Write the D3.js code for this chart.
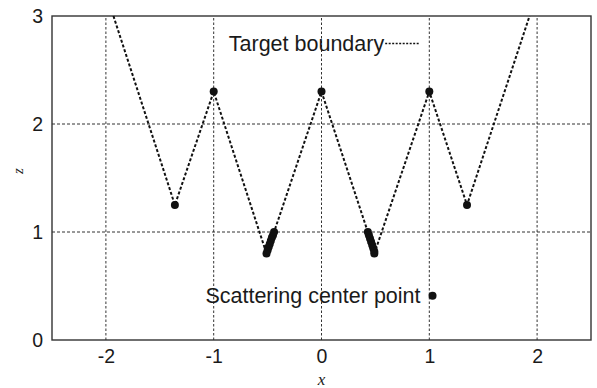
<!DOCTYPE html>
<html>
<head>
<meta charset="utf-8">
<script src="https://cdn.jsdelivr.net/npm/d3@7"></script>
<style>
  html, body { margin: 0; padding: 0; background: #fff; }
  svg { display: block; }
  text { font-family: "Liberation Sans", Arial, Helvetica, sans-serif; fill: #1a1a1a; }
</style>
</head>
<body>
<svg id="chart" width="597" height="388"></svg>
<script>
// Axis ticks
const xTicks = [-2, -1, 0, 1, 2];
const yTicks = [0, 1, 2, 3];

// Target boundary polyline (x, z)
const boundaryX = [-1.93, -1.36, -1.00, -0.51, -0.44, 0.00, 0.43, 0.49, 1.00, 1.35, 1.93];
const boundaryZ = [ 3.00,  1.25,  2.30,  0.80,  1.00, 2.30, 1.00, 0.80, 2.30, 1.25, 3.00];

// Scattering center points (x, z)
const scatterX = [-1.36, -1.00, 0.00, 1.00, 1.35,
                  -0.51, -0.50, -0.49, -0.48, -0.47, -0.46, -0.45, -0.44,
                   0.43,  0.44,  0.45,  0.46,  0.47,  0.48,  0.49,  0.49];
const scatterZ = [ 1.25,  2.30, 2.30, 2.30, 1.25,
                   0.80,  0.83,  0.86,  0.89,  0.92,  0.95,  0.97,  1.00,
                   1.00,  0.97,  0.94,  0.91,  0.88,  0.85,  0.82,  0.80];

// Annotations: [label, x, z]
const boundaryLabel = ["Target boundary", -0.86, 2.68];
const scatterLabel = ["Scattering center point", 1.03, 0.41];

const margin = { left: 52, right: 6, top: 16, bottom: 48 };
const W = 597, H = 388;
const svg = d3.select("#chart");

const x = d3.scaleLinear().domain([-2.5, 2.5]).range([margin.left, W - margin.right]);
const y = d3.scaleLinear().domain([0, 3]).range([H - margin.bottom, margin.top]);

// Grid
svg.append("g").selectAll("line").data(xTicks).join("line")
  .attr("x1", d => x(d)).attr("x2", d => x(d))
  .attr("y1", y(0)).attr("y2", y(3))
  .attr("stroke", "#333").attr("stroke-width", 1).attr("stroke-dasharray", "2.5,2");
svg.append("g").selectAll("line").data([1, 2]).join("line")
  .attr("x1", x(-2.5)).attr("x2", x(2.5))
  .attr("y1", d => y(d)).attr("y2", d => y(d))
  .attr("stroke", "#333").attr("stroke-width", 1).attr("stroke-dasharray", "3,2");

// Axes (plain hyphen for negative labels)
const xAxis = d3.axisBottom(x).tickValues(xTicks).tickSize(0).tickPadding(9)
  .tickFormat(d => String(d));
const yAxis = d3.axisLeft(y).tickValues(yTicks).tickSize(0).tickPadding(9)
  .tickFormat(d => String(d));

const gx = svg.append("g").attr("transform", `translate(0,${y(0)})`).call(xAxis);
const gy = svg.append("g").attr("transform", `translate(${x(-2.5)},0)`).call(yAxis);
[gx, gy].forEach(g => {
  g.select(".domain").remove();
  g.selectAll("text").style("font-size", "19.5px")
    .style("font-family", "'Liberation Sans', Arial, sans-serif").attr("fill", "#1a1a1a");
});

// Frame
svg.append("rect")
  .attr("x", x(-2.5)).attr("y", y(3))
  .attr("width", x(2.5) - x(-2.5)).attr("height", y(0) - y(3))
  .attr("fill", "none").attr("stroke", "#333").attr("stroke-width", 1.4);

// Target boundary
const line = d3.line().x(d => x(d[0])).y(d => y(d[1]));
const boundary = boundaryX.map((v, i) => [v, boundaryZ[i]]);
svg.append("path").datum(boundary)
  .attr("d", line)
  .attr("fill", "none").attr("stroke", "#111")
  .attr("stroke-width", 2).attr("stroke-dasharray", "3,2");

// Scattering centers
const points = scatterX.map((v, i) => [v, scatterZ[i]]);
svg.append("g").selectAll("circle").data(points).join("circle")
  .attr("cx", d => x(d[0])).attr("cy", d => y(d[1]))
  .attr("r", 4).attr("fill", "#111");

// Boundary annotation: label followed by a dotted line sample
const bl = svg.append("text")
  .attr("x", x(boundaryLabel[1])).attr("y", y(boundaryLabel[2]))
  .style("font-size", "21.5px")
  .text(boundaryLabel[0]);
const blEnd = x(boundaryLabel[1]) + bl.node().getComputedTextLength();
svg.append("line")
  .attr("x1", blEnd + 1).attr("x2", blEnd + 35)
  .attr("y1", y(boundaryLabel[2]) - 7).attr("y2", y(boundaryLabel[2]) - 7)
  .attr("stroke", "#111").attr("stroke-width", 1.6).attr("stroke-dasharray", "2,1.5");

// Scattering center annotation: dot with label to its left
svg.append("circle")
  .attr("cx", x(scatterLabel[1])).attr("cy", y(scatterLabel[2]))
  .attr("r", 4).attr("fill", "#111");
svg.append("text")
  .attr("x", x(scatterLabel[1]) - 12).attr("y", y(scatterLabel[2]) + 7)
  .attr("text-anchor", "end")
  .style("font-size", "21.5px")
  .text(scatterLabel[0]);

// Axis titles
svg.append("text")
  .attr("x", x(0)).attr("y", 385)
  .attr("text-anchor", "middle")
  .style("font-family", "'Liberation Serif', 'Times New Roman', serif")
  .style("font-style", "italic").style("font-size", "17px")
  .text("x");
svg.append("text")
  .attr("transform", "translate(22.5,171) rotate(-90)")
  .attr("text-anchor", "middle")
  .style("font-family", "'Liberation Serif', 'Times New Roman', serif")
  .style("font-style", "italic").style("font-size", "15px")
  .text("z");
</script>
</body>
</html>
